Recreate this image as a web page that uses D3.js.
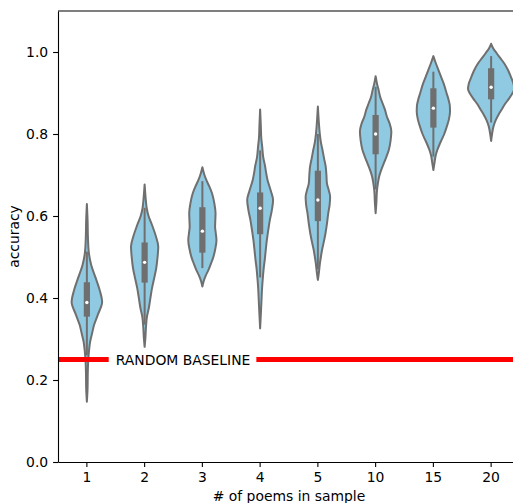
<!DOCTYPE html>
<html>
<head>
<meta charset="utf-8">
<script src="https://cdn.jsdelivr.net/npm/d3@7"></script>
<style>
  html, body { margin: 0; padding: 0; background: #fff; }
  svg { display: block; font-family: "DejaVu Sans", sans-serif; }
</style>
</head>
<body>
<div id="chart"></div>
<script>
const categories = ["1", "2", "3", "4", "5", "10", "15", "20"];
const yTicks = [0.0, 0.2, 0.4, 0.6, 0.8, 1.0];

// inner box statistics per category
const q1          = [0.357, 0.440, 0.513, 0.558, 0.590, 0.753, 0.818, 0.887];
const medians     = [0.389, 0.487, 0.563, 0.619, 0.639, 0.800, 0.863, 0.914];
const q3          = [0.436, 0.533, 0.619, 0.655, 0.708, 0.844, 0.909, 0.958];
const whiskerLow  = [0.260, 0.335, 0.473, 0.450, 0.470, 0.665, 0.745, 0.828];
const whiskerHigh = [0.513, 0.620, 0.685, 0.760, 0.800, 0.915, 0.952, 0.990];

// violin outlines: [accuracy, relative density]
const density1 = [[0.147,0],[0.18,0.03],[0.22,0.04],[0.25,0.06],[0.27,0.09],[0.293,0.14],[0.315,0.23],[0.334,0.31],[0.36,0.48],[0.39,0.66],[0.42,0.55],[0.449,0.38],[0.48,0.19],[0.513,0.08],[0.55,0.045],[0.59,0.03],[0.629,0]];
const density2 = [[0.281,0],[0.30,0.03],[0.33,0.06],[0.354,0.1],[0.375,0.18],[0.40,0.25],[0.424,0.32],[0.45,0.42],[0.472,0.5],[0.50,0.56],[0.525,0.59],[0.55,0.49],[0.578,0.32],[0.60,0.17],[0.619,0.09],[0.64,0.05],[0.677,0]];
const density3 = [[0.428,0],[0.44,0.05],[0.455,0.15],[0.468,0.26],[0.485,0.38],[0.501,0.48],[0.52,0.56],[0.541,0.61],[0.558,0.58],[0.574,0.55],[0.59,0.56],[0.607,0.57],[0.63,0.52],[0.655,0.42],[0.672,0.3],[0.688,0.17],[0.70,0.09],[0.719,0]];
const density4 = [[0.326,0],[0.36,0.03],[0.395,0.06],[0.42,0.08],[0.444,0.11],[0.47,0.15],[0.493,0.2],[0.515,0.24],[0.541,0.29],[0.565,0.35],[0.59,0.42],[0.615,0.51],[0.639,0.56],[0.66,0.47],[0.688,0.32],[0.705,0.26],[0.72,0.22],[0.745,0.13],[0.769,0.09],[0.79,0.05],[0.82,0.03],[0.860,0]];
const density5 = [[0.444,0],[0.46,0.04],[0.485,0.09],[0.50,0.13],[0.517,0.18],[0.535,0.25],[0.558,0.33],[0.58,0.39],[0.607,0.45],[0.628,0.51],[0.647,0.53],[0.665,0.46],[0.68,0.39],[0.70,0.37],[0.72,0.34],[0.74,0.27],[0.761,0.2],[0.78,0.13],[0.802,0.08],[0.83,0.04],[0.867,0]];
const density10 = [[0.607,0],[0.63,0.03],[0.663,0.06],[0.68,0.1],[0.696,0.15],[0.712,0.24],[0.728,0.35],[0.745,0.47],[0.761,0.57],[0.785,0.65],[0.806,0.68],[0.825,0.61],[0.842,0.49],[0.86,0.4],[0.875,0.3],[0.89,0.2],[0.907,0.13],[0.92,0.07],[0.941,0]];
const density15 = [[0.712,0],[0.73,0.05],[0.745,0.09],[0.761,0.17],[0.775,0.27],[0.785,0.35],[0.80,0.47],[0.818,0.58],[0.835,0.67],[0.854,0.72],[0.87,0.71],[0.883,0.66],[0.90,0.57],[0.924,0.44],[0.94,0.33],[0.956,0.22],[0.972,0.11],[0.99,0]];
const density20 = [[0.783,0],[0.80,0.04],[0.818,0.1],[0.834,0.2],[0.847,0.32],[0.859,0.45],[0.873,0.6],[0.887,0.78],[0.90,0.93],[0.91,1.0],[0.922,0.97],[0.94,0.85],[0.955,0.74],[0.972,0.57],[0.985,0.4],[0.997,0.24],[1.008,0.1],[1.02,0]];
const densities = [density1, density2, density3, density4, density5, density10, density15, density20];

const baselineValue = 0.25;
const baselineLabel = "RANDOM BASELINE";

const W = 513, H = 503;
const margin = { left: 58, top: 11, bottom: 41 };
const plotRight = 520;            // axes run past the window edge
const fontSize = 13.9;
const fill = "#8fcae2";
const gray = "#6f6f6f";

const svg = d3.select("#chart").append("svg")
  .attr("width", W)
  .attr("height", H);

const x = d3.scaleBand()
  .domain(categories)
  .range([margin.left, plotRight]);

const y = d3.scaleLinear()
  .domain([0, 1.1])
  .range([H - margin.bottom, margin.top]);

const bw = x.bandwidth();
const w = d3.scaleLinear().domain([0, 1]).range([0, bw * 0.4]);
const cx = c => x(c) + bw / 2;

// violins
const violins = svg.append("g").attr("class", "violins");

categories.forEach((c, i) => {
  const pts = densities[i].slice().sort((a, b) => b[0] - a[0]);
  const area = d3.area()
    .curve(d3.curveMonotoneY)
    .y(d => y(d[0]))
    .x0(d => cx(c) - w(d[1]))
    .x1(d => cx(c) + w(d[1]));

  const g = violins.append("g");
  g.append("path")
    .attr("d", area(pts))
    .attr("fill", fill)
    .attr("stroke", gray)
    .attr("stroke-width", 2)
    .attr("stroke-linejoin", "round");

  // whisker
  g.append("line")
    .attr("x1", cx(c)).attr("x2", cx(c))
    .attr("y1", y(whiskerLow[i])).attr("y2", y(whiskerHigh[i]))
    .attr("stroke", gray)
    .attr("stroke-width", 2);

  // box
  g.append("rect")
    .attr("x", cx(c) - 3.1)
    .attr("width", 6.2)
    .attr("y", y(q3[i]) - 1)
    .attr("height", y(q1[i]) - y(q3[i]) + 2)
    .attr("fill", gray);

  // median
  g.append("circle")
    .attr("cx", cx(c))
    .attr("cy", y(medians[i]))
    .attr("r", 1.7)
    .attr("fill", "#fff");
});

// random baseline
svg.append("line")
  .attr("x1", margin.left)
  .attr("x2", plotRight)
  .attr("y1", y(baselineValue))
  .attr("y2", y(baselineValue))
  .attr("stroke", "red")
  .attr("stroke-width", 5);

const labelG = svg.append("g");
const labelX = margin.left + bw * 2.165;
const labelBg = labelG.append("rect").attr("fill", "#fff");
const label = labelG.append("text")
  .attr("x", labelX)
  .attr("y", y(baselineValue) + fontSize * 0.365)
  .attr("text-anchor", "middle")
  .attr("font-size", fontSize)
  .attr("fill", "#000")
  .text(baselineLabel);
const bb = label.node().getBBox();
labelBg
  .attr("x", bb.x - 7)
  .attr("width", bb.width + 13)
  .attr("y", y(baselineValue) - 10)
  .attr("height", 20);

// axes
const yAxis = svg.append("g")
  .attr("transform", `translate(${margin.left},0)`)
  .call(d3.axisLeft(y).tickValues(yTicks).tickFormat(d3.format(".1f"))
    .tickSize(4.9).tickSizeOuter(0).tickPadding(4.9));

const xAxis = svg.append("g")
  .attr("transform", `translate(0,${y(0)})`)
  .call(d3.axisBottom(x).tickSize(4.9).tickSizeOuter(0).tickPadding(4.9));

[yAxis, xAxis].forEach(a => {
  a.selectAll("text")
    .attr("font-size", fontSize)
    .attr("font-family", "DejaVu Sans, sans-serif")
    .attr("fill", "#000");
  a.selectAll("line").attr("stroke", "#000").attr("stroke-width", 1.1);
  a.select(".domain").attr("stroke", "#000").attr("stroke-width", 1.1);
});

// top spine
svg.append("line")
  .attr("x1", margin.left).attr("x2", plotRight)
  .attr("y1", y(1.1)).attr("y2", y(1.1))
  .attr("stroke", "#000")
  .attr("stroke-width", 1.1);

// axis labels
svg.append("text")
  .attr("x", (margin.left + plotRight) / 2)
  .attr("y", 501)
  .attr("text-anchor", "middle")
  .attr("font-size", fontSize)
  .text("# of poems in sample");

svg.append("text")
  .attr("transform", `translate(19,${(y(0) + y(1.1)) / 2}) rotate(-90)`)
  .attr("text-anchor", "middle")
  .attr("font-size", fontSize)
  .text("accuracy");
</script>
</body>
</html>
